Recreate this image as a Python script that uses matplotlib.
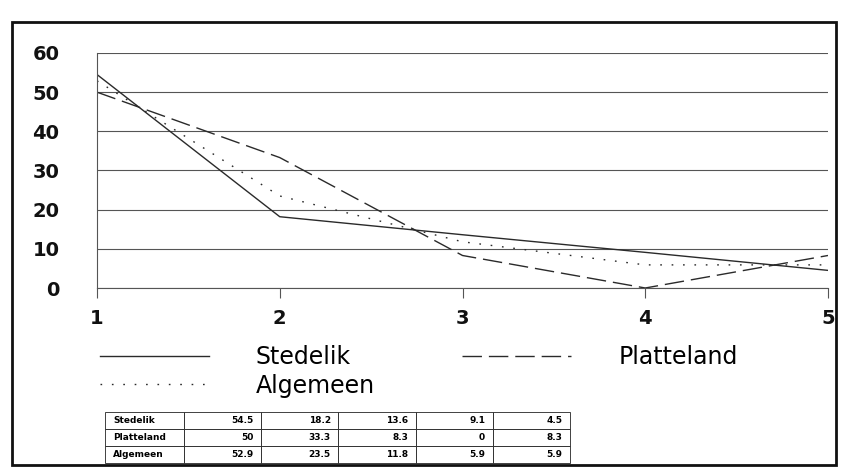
import matplotlib
matplotlib.use("Agg")
from matplotlib import pyplot as plt
from matplotlib.patches import Rectangle

plt.rcParams["font.family"] = ["DejaVu Sans"]

# Data
CATEGORIES = [1, 2, 3, 4, 5]
SERIES_NAMES = ["Stedelik", "Platteland", "Algemeen"]
STEDELIK = [54.5, 18.2, 13.6, 9.1, 4.5]
PLATTELAND = [50, 33.3, 8.3, 0, 8.3]
ALGEMEEN = [52.9, 23.5, 11.8, 5.9, 5.9]
Y_TICKS = [0, 10, 20, 30, 40, 50, 60]

# Styles
LINE_COLOR = "#2a2a2a"
GRID_COLOR = "#555555"
STYLES = {
    "Stedelik": dict(linestyle="-"),
    "Platteland": dict(linestyle=(0, (14, 5))),
    "Algemeen": dict(linestyle=(0, (1.2, 7))),
}

W, H = 843, 469
fig = plt.figure(figsize=(W / 100, H / 100), dpi=100)
fig.patch.set_facecolor("white")


def fx(px):
    return px / W


def fy(py):
    return 1 - py / H


# Outer frame around the whole chart
fig.patches.append(Rectangle((fx(12), fy(465)), fx(836) - fx(12), fy(22) - fy(465),
                             transform=fig.transFigure, fill=False,
                             edgecolor="#111111", linewidth=2))

ax = fig.add_axes([fx(97), fy(288), fx(828) - fx(97), fy(53) - fy(288)])

lines = {}
for name, values in zip(SERIES_NAMES, [STEDELIK, PLATTELAND, ALGEMEEN]):
    (ln,) = ax.plot(CATEGORIES, values, color=LINE_COLOR, linewidth=1.0,
                    label=name, **STYLES[name])
    lines[name] = ln

ax.set_xlim(CATEGORIES[0], CATEGORIES[-1])
ax.set_ylim(0, 60)
ax.set_yticks(Y_TICKS)
ax.set_xticks(CATEGORIES)
ax.yaxis.grid(True, color=GRID_COLOR, linewidth=0.8)
ax.set_axisbelow(True)

for side in ["top", "right"]:
    ax.spines[side].set_visible(False)
ax.spines["left"].set_color(GRID_COLOR)
ax.spines["left"].set_linewidth(0.8)
ax.spines["bottom"].set_color(GRID_COLOR)
ax.spines["bottom"].set_linewidth(0.8)

ax.tick_params(axis="y", length=0, pad=27, labelsize=14, labelcolor="#111111")
ax.tick_params(axis="x", length=7, width=0.8, color=GRID_COLOR, pad=8,
               labelsize=14, labelcolor="#111111")
for lbl in ax.get_xticklabels() + ax.get_yticklabels():
    lbl.set_fontweight("bold")

# Legend below the plot
order = ["Stedelik", "Algemeen", "Platteland"]
fig.legend([lines[n] for n in order], order, loc="upper left",
           bbox_to_anchor=(fx(100), fy(345)), ncol=2, frameon=False,
           fontsize=17, handlelength=4.6, handletextpad=2.0,
           columnspacing=3.7, labelspacing=0.2, borderpad=0, borderaxespad=0)

# Data table at the bottom
tax = fig.add_axes([fx(105), fy(463), fx(570) - fx(105), fy(412) - fy(463)])
tax.axis("off")
cell_text = []
for name, values in zip(SERIES_NAMES, [STEDELIK, PLATTELAND, ALGEMEEN]):
    cell_text.append([name] + [f"{v:g}" for v in values])
col_widths = [0.17] + [0.166] * 5
tbl = tax.table(cellText=cell_text, colWidths=col_widths, bbox=[0, 0, 1, 1],
                cellLoc="right", edges="closed")
tbl.auto_set_font_size(False)
tbl.set_fontsize(6.5)
for (r, c), cell in tbl.get_celld().items():
    cell.set_linewidth(0.6)
    cell.set_edgecolor("#222222")
    if c == 0:
        cell.set_text_props(ha="left", fontweight="bold")
        cell._loc = "left"
    else:
        cell.set_text_props(fontweight="bold")

fig.savefig("out.png", dpi=100)
